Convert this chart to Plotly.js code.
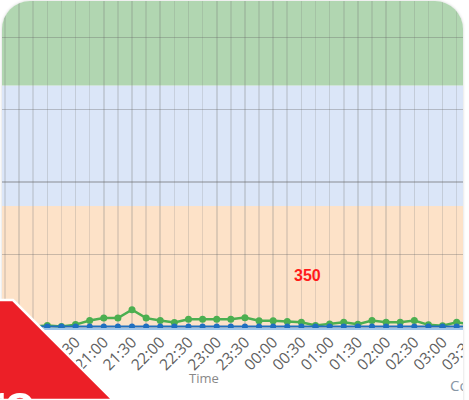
<!DOCTYPE html>
<html>
<head>
<meta charset="utf-8">
<script src="https://cdn.plot.ly/plotly-3.0.1.min.js"></script>
<style>
  html, body { margin:0; padding:0; width:469px; height:400px; overflow:hidden; background:#ffffff; }
  #card { position:absolute; left:2px; top:1px; width:461px; height:430px; border-radius:28px; overflow:hidden; background:#ffffff; box-shadow:0 0 3px rgba(0,0,0,0.18); }
  #chart { position:absolute; left:-124px; top:-21px; width:642px; height:448px; }
  #ribbon { position:absolute; left:0; top:0; width:469px; height:400px; pointer-events:none; }
</style>
</head>
<body>
<div id="card"><div id="chart"></div></div>
<svg id="ribbon" width="469" height="400">
  <polygon points="-3,300 13,300 113,400 -3,400" fill="#ec1f27" stroke="#ffffff" stroke-width="2.5"/>
  <text x="-15" y="420" font-family="Liberation Sans, Arial, sans-serif" font-weight="bold" font-size="50" fill="#ffffff">ro</text>
</svg>
<script>
// Time stamps (15-minute samples)
const times = [
  "2024-01-01 19:15","2024-01-01 19:30","2024-01-01 19:45","2024-01-01 20:00",
  "2024-01-01 20:15","2024-01-01 20:30","2024-01-01 20:45","2024-01-01 21:00",
  "2024-01-01 21:15","2024-01-01 21:30","2024-01-01 21:45","2024-01-01 22:00",
  "2024-01-01 22:15","2024-01-01 22:30","2024-01-01 22:45","2024-01-01 23:00",
  "2024-01-01 23:15","2024-01-01 23:30","2024-01-01 23:45","2024-01-02 00:00",
  "2024-01-02 00:15","2024-01-02 00:30","2024-01-02 00:45","2024-01-02 01:00",
  "2024-01-02 01:15","2024-01-02 01:30","2024-01-02 01:45","2024-01-02 02:00",
  "2024-01-02 02:15","2024-01-02 02:30","2024-01-02 02:45","2024-01-02 03:00",
  "2024-01-02 03:15","2024-01-02 03:30"
];
// Green series values
const greenValues = [
  0, 0, 0, 0.4,
  0, 0.8, 2.5, 3.5,
  3.5, 7, 3.5, 2.5,
  1.7, 3, 3, 3,
  3, 3.7, 2.4, 2.4,
  2.1, 1.8, 0.4, 1.1,
  1.8, 1, 2.5, 1.8,
  1.8, 2.5, 0.7, 0.3,
  1.8, 0.8
];
// Blue series values
const blueValues = [
  0,0,0,0, 0,0,0,0, 0,0,0,0, 0,0,0,0,
  0,0,0,0, 0,0,0,0, 0,0,0,0, 0,0,0,0, 0,0
];
// Background bands (value thresholds)
const bandEdges = [-0.6, 50, 100, 140];
const bandColors = ["#fde2c8", "#dbe6f8", "#b1d6b1"];
// Text labels
const xTitle = "Time";
const valueLabel = "350";
const legendLabel = "Count";

const shapes = bandColors.map((c, i) => ({
  type: "rect", xref: "paper", yref: "y", x0: 0, x1: 1,
  y0: bandEdges[i], y1: bandEdges[i + 1],
  fillcolor: c, line: { width: 0 }, layer: "below"
}));

const traces = [
  {
    x: times, y: greenValues, type: "scatter", mode: "lines+markers",
    line: { color: "#4caf50", width: 2.5 },
    marker: { color: "#4caf50", size: 7 },
    hoverinfo: "skip", showlegend: false
  },
  {
    x: times, y: blueValues, type: "scatter", mode: "lines+markers",
    line: { color: "#1f6fc0", width: 2 },
    marker: { color: "#1f6fc0", size: 6 },
    hoverinfo: "skip", showlegend: false
  }
];

const layout = {
  width: 642, height: 448,
  margin: { l: 50, r: 40, t: 10, b: 100 },
  paper_bgcolor: "rgba(0,0,0,0)",
  plot_bgcolor: "rgba(0,0,0,0)",
  font: { family: "Open Sans, sans-serif" },
  showlegend: false,
  shapes: shapes,
  xaxis: {
    type: "date",
    range: ["2024-01-01 17:53:12", "2024-01-02 03:39:48"],
    dtick: 30 * 60 * 1000,
    tick0: "2024-01-01 00:00",
    tickformat: "%H:%M",
    tickangle: -45,
    ticklabelstandoff: -3,
    tickfont: { size: 15.5, color: "#606060" },
    showgrid: true,
    gridcolor: "rgba(120,120,120,0.24)",
    gridwidth: 1.6,
    minor: { dtick: 15 * 60 * 1000, showgrid: true, gridcolor: "rgba(120,120,120,0.20)", gridwidth: 1.6 },
    showline: true, linecolor: "#9fc4e8", linewidth: 2,
    ticks: "",
    zeroline: false,
    automargin: false
  },
  yaxis: {
    range: [-0.6, 139.6],
    dtick: 30, tick0: 0,
    showgrid: true,
    gridcolor: "rgba(100,100,100,0.34)",
    gridwidth: 1.4,
    zeroline: false,
    showline: false,
    ticks: "",
    showticklabels: false,
    automargin: false
  },
  annotations: [
    { xref: "paper", yref: "paper", x: 0.5, y: -0.148, text: xTitle, showarrow: false,
      font: { size: 13, color: "#888888" }, xanchor: "center", yanchor: "middle" },
    { xref: "paper", yref: "paper", x: 0.6875, y: 0.1568, text: valueLabel, showarrow: false,
      font: { size: 16, color: "#ff1a1a", family: "Liberation Sans, Arial, sans-serif", weight: "bold" },
      xanchor: "center", yanchor: "middle" },
    { xref: "paper", yref: "paper", x: 0.942, y: -0.169, text: legendLabel, showarrow: false,
      font: { size: 15, color: "#8796a5" }, xanchor: "left", yanchor: "middle" }
  ]
};

Plotly.newPlot("chart", traces, layout, { staticPlot: true, displayModeBar: false });
</script>
</body>
</html>
